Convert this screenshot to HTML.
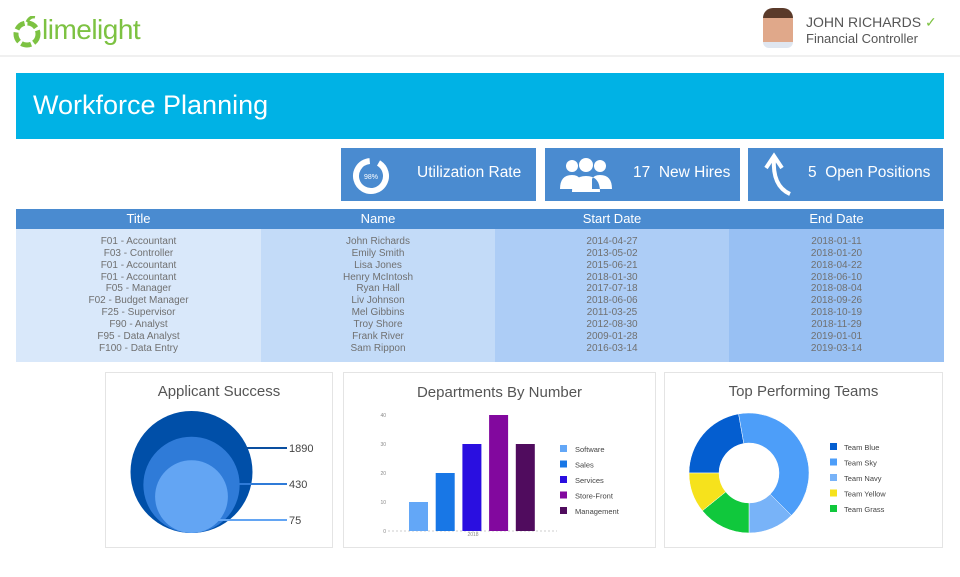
<!DOCTYPE html>
<html><head><meta charset="utf-8">
<style>
*{margin:0;padding:0;box-sizing:border-box}
body{width:960px;height:577px;background:#fff;font-family:"Liberation Sans",sans-serif;position:relative;overflow:hidden}
.abs{position:absolute}
.card{position:absolute;background:#4a8bd0;color:#fff;font-size:15.5px}
.th{position:absolute;top:209px;height:20px;color:#fff;font-size:13px;text-align:center;line-height:20px}
.col{position:absolute;top:229px;height:133px;font-size:10px;color:#707070;text-align:center;line-height:11.85px;padding-top:7px}
.panel{position:absolute;top:372px;height:176px;border:1px solid #e4e4e4;background:#fff}
.ptitle{position:absolute;left:0;right:0;top:10px;text-align:center;font-size:15px;color:#555}
</style></head><body>
<div class="abs" style="left:0;top:0;width:960px;height:57px;border-bottom:2px solid #f0f0f0"></div>
<div class="abs" style="left:12px;top:12px;height:36px;font-size:28px;color:#7dc242;line-height:36px">
<svg width="30" height="32" style="vertical-align:middle"><circle cx="15" cy="18" r="11" fill="none" stroke="#7dc242" stroke-width="5" stroke-dasharray="10 3"/><path d="M15 6 q3 -6 8 -5" stroke="#7dc242" stroke-width="3" fill="none"/></svg><span style="letter-spacing:-0.5px">limelight</span></div>
<div class="abs" style="left:763px;top:8px;width:30px;height:40px;border-radius:10px 10px 6px 6px;background:linear-gradient(#5a3a2a 0 25%,#e0a88a 25% 85%,#dfe6f0 85%)"></div>
<div class="abs" style="left:806px;top:14px;font-size:14px;color:#555">JOHN RICHARDS <span style="color:#7dc242">&#10003;</span></div>
<div class="abs" style="left:806px;top:31px;font-size:13px;color:#555">Financial Controller</div>
<div class="abs" style="left:16px;top:73px;width:928px;height:66px;background:#00b2e5;color:#fff;font-size:27px;line-height:64px;padding-left:17px">Workforce Planning</div>
<div class="card" style="left:341px;top:148px;width:195px;height:53px">
<svg class="abs" style="left:10px;top:8px" width="40" height="40"><circle cx="20" cy="20" r="15" fill="none" stroke="#fff" stroke-width="6" stroke-dasharray="85 10" transform="rotate(-60 20 20)"/><text x="20" y="23" font-size="7" fill="#fff" text-anchor="middle" font-family="Liberation Sans">98%</text></svg>
<span class="abs" style="left:76px;top:16px">Utilization Rate</span></div>
<div class="card" style="left:545px;top:148px;width:195px;height:53px">
<svg class="abs" style="left:14px;top:8px" width="54" height="38" fill="#fff"><circle cx="13" cy="10" r="6"/><circle cx="41" cy="10" r="6"/><circle cx="27" cy="9" r="7"/><path d="M1 33 q0-14 12-14 q6 0 8 4 v10z M53 33 q0-14-12-14 q-6 0-8 4 v10z M13 36 q0-16 14-16 q14 0 14 16z"/></svg>
<span class="abs" style="left:88px;top:16px">17&nbsp; New Hires</span></div>
<div class="card" style="left:748px;top:148px;width:195px;height:53px">
<svg class="abs" style="left:12px;top:4px" width="34" height="46"><path d="M6 16 L14 4 L22 16 M14 6 Q12 34 30 42" stroke="#fff" stroke-width="4" fill="none"/></svg>
<span class="abs" style="left:60px;top:16px">5&nbsp; Open Positions</span></div>
<div class="abs" style="left:16px;top:209px;width:928px;height:20px;background:#4a8bd0"></div>
<div class="th" style="left:16px;width:245px">Title</div>
<div class="th" style="left:261px;width:234px">Name</div>
<div class="th" style="left:495px;width:234px">Start Date</div>
<div class="th" style="left:729px;width:215px">End Date</div>
<div class="col" style="left:16px;width:245px;background:#d9e8fa">F01 - Accountant<br>F03 - Controller<br>F01 - Accountant<br>F01 - Accountant<br>F05 - Manager<br>F02 - Budget Manager<br>F25 - Supervisor<br>F90 - Analyst<br>F95 - Data Analyst<br>F100 - Data Entry</div>
<div class="col" style="left:261px;width:234px;background:#c3dbf8">John Richards<br>Emily Smith<br>Lisa Jones<br>Henry McIntosh<br>Ryan Hall<br>Liv Johnson<br>Mel Gibbins<br>Troy Shore<br>Frank River<br>Sam Rippon</div>
<div class="col" style="left:495px;width:234px;background:#adcdf6">2014-04-27<br>2013-05-02<br>2015-06-21<br>2018-01-30<br>2017-07-18<br>2018-06-06<br>2011-03-25<br>2012-08-30<br>2009-01-28<br>2016-03-14</div>
<div class="col" style="left:729px;width:215px;background:#98c0f3">2018-01-11<br>2018-01-20<br>2018-04-22<br>2018-06-10<br>2018-08-04<br>2018-09-26<br>2018-10-19<br>2018-11-29<br>2019-01-01<br>2019-03-14</div>

<div class="panel" style="left:105px;width:228px">
<div class="ptitle">Applicant Success</div></div>
<div class="panel" style="left:343px;width:313px">
<div class="ptitle" style="top:11px">Departments By Number</div></div>
<div class="panel" style="left:664px;width:279px">
<div class="ptitle">Top Performing Teams</div></div>

<svg class="abs" style="left:0;top:0" width="960" height="577" id="charts" font-family="Liberation Sans"></svg>
<script>
// Applicant funnel
const appLabels=["1890","430","75"];
const appValues=[1890,430,75];
// Departments bar chart
const deptCategories=["Software","Sales","Services","Store-Front","Management"];
const deptValues=[10,20,30,40,30];
const deptTicks=[0,10,20,30,40];
const deptColors=["#63a7f7","#1877e6","#2a0fe0","#82089e","#500c5e"];
// Teams donut
const teamLabels=["Team Blue","Team Sky","Team Navy","Team Yellow","Team Grass"];
const teamValues=[80,145,45,39,51];
const teamColors=["#045ed0","#4d9ef9","#78b3f8","#f6e21c","#10c83c"];
const teamDrawOrder=[0,1,2,4,3];

const svg=document.getElementById('charts');
const NS='http://www.w3.org/2000/svg';
function mk(tag,attrs,parent){const e=document.createElementNS(NS,tag);for(const k in attrs)e.setAttribute(k,attrs[k]);(parent||svg).appendChild(e);return e;}

// applicant circles
const appColors=["#004fa8","#2f7bd8","#63a5f3"],lineColors=["#0a4fa0","#2f7bd8","#63a5f3"];
const rScale=v=>61*Math.pow(v/appValues[0],0.16);
const cx=191.5,bottom=533;
appValues.forEach((v,i)=>{const r=rScale(v);const c=mk('circle',{cx:cx,cy:bottom-r,r:r,fill:appColors[i]});

});
appValues.forEach((v,i)=>{const r=rScale(v);const y=448+i*36;const xs=cx+Math.sqrt(Math.max(0,r*r-(y-(bottom-r))**2));
const l=mk('line',{x1:xs-3,y1:y,x2:287,y2:y,stroke:lineColors[i],'stroke-width':2});


const t=mk('text',{x:289,y:y+4,'font-size':11,fill:'#444'});t.textContent=appLabels[i];

});

// bars
const y0=531,yPer=2.9,barX=409,barStep=26.7,barW=19;
const yS=v=>y0-v*yPer;
const axis=mk('line',{x1:388,y1:y0,x2:557,y2:y0,stroke:'#ccc','stroke-dasharray':'2 2'});


deptTicks.forEach(t=>{const e=mk('text',{x:386,y:yS(t)+2,'font-size':5,fill:'#888','text-anchor':'end'});e.textContent=t;

});
const xl=mk('text',{x:473,y:536,'font-size':5,fill:'#888','text-anchor':'middle'});xl.textContent='2018';


deptValues.forEach((v,i)=>{const b=mk('rect',{x:barX+i*barStep,y:yS(v),width:barW,height:v*yPer,fill:deptColors[i]});


const s=mk('rect',{x:560,y:445+i*15.5,width:7,height:7,fill:deptColors[i]});


const t=mk('text',{x:575,y:452+i*15.5,'font-size':7.5,fill:'#444'});t.textContent=deptCategories[i];

});

// donut
const dcx=749,dcy=473,R=60,r0=30;const total=teamValues.reduce((a,b)=>a+b,0);
let ang=180;
const pt=(a,rr)=>[dcx+rr*Math.cos(a*Math.PI/180),dcy+rr*Math.sin(a*Math.PI/180)];
teamDrawOrder.forEach(i=>{const sweep=teamValues[i]/total*360;const a1=ang,a2=ang+sweep;const lg=sweep>180?1:0;
const [x1,y1]=pt(a1,R),[x2,y2]=pt(a2,R),[x3,y3]=pt(a2,r0),[x4,y4]=pt(a1,r0);
const p=mk('path',{d:`M${x1} ${y1}A${R} ${R} 0 ${lg} 1 ${x2} ${y2}L${x3} ${y3}A${r0} ${r0} 0 ${lg} 0 ${x4} ${y4}Z`,fill:teamColors[i],stroke:'#fff','stroke-width':0.5});


ang=a2;});
teamLabels.forEach((l,i)=>{const s=mk('rect',{x:830,y:443+i*15.5,width:7,height:7,fill:teamColors[i]});


const t=mk('text',{x:844,y:450+i*15.5,'font-size':7.5,fill:'#444'});t.textContent=l;

});
</script>
</body></html>
